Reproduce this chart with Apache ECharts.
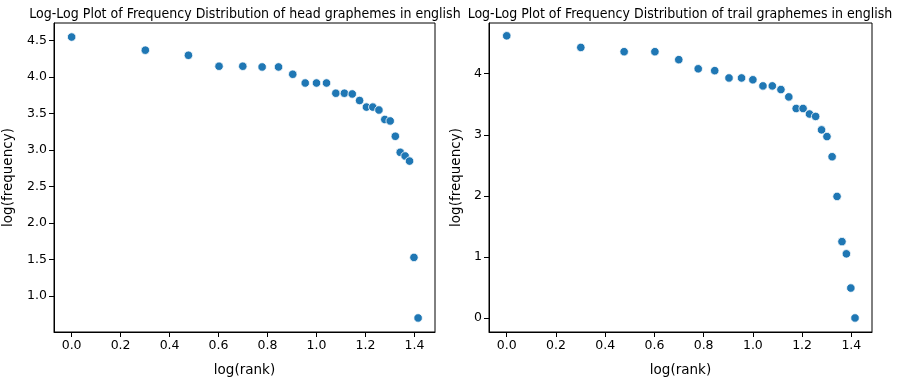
<!DOCTYPE html>
<html>
<head>
<meta charset="utf-8">
<script src="https://cdn.jsdelivr.net/npm/echarts@6/dist/echarts.min.js"></script>
<style>
  html, body { margin: 0; padding: 0; background: #fff; }
  #chart { width: 898px; height: 382px; }
</style>
</head>
<body>
<div id="chart"></div>
<script>
// log10(rank) for ranks 1..26
var logRank = [0.000, 0.301, 0.477, 0.602, 0.699, 0.778, 0.845, 0.903, 0.954, 1.000,
               1.041, 1.079, 1.114, 1.146, 1.176, 1.204, 1.230, 1.255, 1.279, 1.301,
               1.322, 1.342, 1.362, 1.380, 1.398, 1.415];
var headLogFreq = [4.55, 4.37, 4.30, 4.15, 4.15, 4.14, 4.14, 4.04, 3.92, 3.92,
                   3.92, 3.78, 3.78, 3.77, 3.68, 3.59, 3.59, 3.55, 3.42, 3.40,
                   3.19, 2.97, 2.92, 2.85, 1.53, 0.70];
var trailLogFreq = [4.62, 4.43, 4.36, 4.36, 4.23, 4.08, 4.05, 3.93, 3.93, 3.90,
                    3.80, 3.80, 3.74, 3.62, 3.43, 3.43, 3.34, 3.30, 3.08, 2.97,
                    2.64, 1.99, 1.25, 1.05, 0.49, 0.00];
var xTicks = [0.0, 0.2, 0.4, 0.6, 0.8, 1.0, 1.2, 1.4];
var headYTicks = [1.0, 1.5, 2.0, 2.5, 3.0, 3.5, 4.0, 4.5];
var trailYTicks = [0, 1, 2, 3, 4];

var font = 'DejaVu Sans';
var titleFont = '"DejaVu Sans Condensed", "Liberation Sans Narrow", "DejaVu Sans"';
var dotColor = '#1f77b4';

function pairs(xs, ys) {
  return xs.map(function (x, i) { return [x, ys[i]]; });
}

function xAxisFor(idx) {
  return {
    type: 'value', gridIndex: idx,
    min: -0.072, max: 1.484,
    name: 'log(rank)', nameLocation: 'middle', nameGap: 31,
    nameTextStyle: { fontFamily: font, fontSize: 13.5, color: '#000' },
    axisLine: { show: true, onZero: false, lineStyle: { color: '#000', width: 1 } },
    axisTick: { show: true, inside: false, length: 5, customValues: xTicks, lineStyle: { color: '#000' } },
    axisLabel: {
      customValues: xTicks, margin: 7, fontFamily: font, fontSize: 12.5, color: '#000',
      formatter: function (v) { return v.toFixed(1); }
    },
    splitLine: { show: false }
  };
}

function yAxisFor(idx, min, max, ticks, digits, gap) {
  return {
    type: 'value', gridIndex: idx,
    min: min, max: max,
    name: 'log(frequency)', nameLocation: 'middle', nameGap: gap,
    nameTextStyle: { fontFamily: font, fontSize: 13.5, color: '#000' },
    axisLine: { show: true, onZero: false, lineStyle: { color: '#000', width: 1 } },
    axisTick: { show: true, inside: false, length: 5, customValues: ticks, lineStyle: { color: '#000' } },
    axisLabel: {
      customValues: ticks, margin: 7, fontFamily: font, fontSize: 12.5, color: '#000',
      formatter: function (v) { return v.toFixed(digits); }
    },
    splitLine: { show: false }
  };
}

var chart = echarts.init(document.getElementById('chart'), null, { renderer: 'canvas' });
chart.setOption({
  animation: false,
  backgroundColor: '#fff',
  title: [
    {
      text: 'Log-Log Plot of Frequency Distribution of head graphemes in english',
      left: 240, top: 2, textAlign: 'center',
      textStyle: { fontFamily: titleFont, fontSize: 14, fontWeight: 'normal', color: '#000' }
    },
    {
      text: 'Log-Log Plot of Frequency Distribution of trail graphemes in english',
      left: 675, top: 2, textAlign: 'center',
      textStyle: { fontFamily: titleFont, fontSize: 14, fontWeight: 'normal', color: '#000' }
    }
  ],
  grid: [
    { left: 53, top: 23, width: 382, height: 309, show: true, borderColor: '#000', borderWidth: 1, backgroundColor: 'transparent' },
    { left: 489, top: 23, width: 383, height: 309, show: true, borderColor: '#000', borderWidth: 1, backgroundColor: 'transparent' }
  ],
  xAxis: [xAxisFor(0), xAxisFor(1)],
  yAxis: [
    yAxisFor(0, 0.5075, 4.7425, headYTicks, 1, 39),
    yAxisFor(1, -0.23, 4.83, trailYTicks, 0, 26)
  ],
  series: [
    {
      type: 'scatter', xAxisIndex: 0, yAxisIndex: 0,
      data: pairs(logRank, headLogFreq),
      symbolSize: 8.5,
      itemStyle: { color: dotColor, borderColor: '#fff', borderWidth: 0.8, opacity: 1 }
    },
    {
      type: 'scatter', xAxisIndex: 1, yAxisIndex: 1,
      data: pairs(logRank, trailLogFreq),
      symbolSize: 8.5,
      itemStyle: { color: dotColor, borderColor: '#fff', borderWidth: 0.8, opacity: 1 }
    }
  ]
});
</script>
</body>
</html>
